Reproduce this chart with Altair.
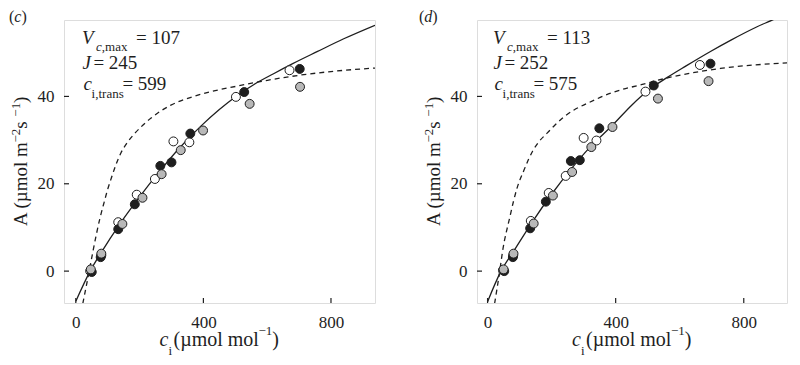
import altair as alt
import pandas as pd

# ---------------- data ----------------
# Panel (c)
c_open_ci = [45, 80, 133, 191, 248, 306, 356, 502, 670]
c_open_A = [0.0, 3.6, 11.2, 17.5, 21.1, 29.7, 29.5, 39.9, 46.0]
c_black_ci = [50, 78, 133, 185, 265, 300, 359, 528, 702]
c_black_A = [-0.2, 3.2, 9.6, 15.3, 24.1, 24.9, 31.5, 41.0, 46.3]
c_gray_ci = [47, 80, 146, 209, 269, 329, 399, 545, 703]
c_gray_A = [0.4, 4.0, 10.8, 16.8, 22.2, 27.7, 32.2, 38.3, 42.2]
c_solid_ci = [0, 45, 80, 140, 200, 260, 320, 392, 450, 502, 560, 620, 680, 758, 840, 938]
c_solid_A = [-6.9, 0.0, 4.3, 11.0, 17.0, 22.6, 27.8, 33.2, 37.0, 40.0, 42.8, 45.2, 47.5, 50.3, 53.2, 56.3]
c_dash_ci = [22, 42, 54, 76, 89, 99, 110, 125, 141, 160, 183, 210, 235, 265, 298, 361, 418, 502, 601, 706, 800, 938]
c_dash_A = [-7.4, 0.0, 4.6, 12.2, 15.8, 18.5, 21.0, 24.2, 27.0, 29.3, 31.4, 33.4, 35.0, 36.6, 38.0, 39.8, 41.0, 42.3, 43.7, 44.9, 45.7, 46.5]

# Panel (d)
d_open_ci = [48, 80, 135, 191, 244, 300, 340, 493, 663]
d_open_A = [0.2, 3.6, 11.5, 17.9, 21.8, 30.5, 29.9, 41.1, 47.2]
d_black_ci = [52, 79, 133, 182, 260, 288, 349, 519, 696]
d_black_A = [0.0, 3.2, 9.8, 15.9, 25.2, 25.4, 32.7, 42.5, 47.5]
d_gray_ci = [50, 81, 144, 204, 264, 324, 390, 532, 690]
d_gray_A = [0.4, 4.0, 10.9, 17.3, 22.7, 28.4, 33.0, 39.5, 43.5]
d_solid_ci = [0, 42, 80, 140, 200, 260, 320, 390, 450, 500, 560, 620, 696, 760, 840, 892, 935]
d_solid_A = [-7.0, 0.0, 4.4, 11.3, 17.6, 23.3, 28.4, 33.4, 38.0, 41.3, 44.3, 47.0, 50.3, 52.9, 55.9, 57.6, 59.1]
d_dash_ci = [22, 38, 47, 69, 81, 92, 113, 128, 141, 160, 186, 210, 238, 270, 311, 390, 480, 571, 727, 936]
d_dash_A = [-7.4, 0.0, 4.6, 12.2, 16.0, 19.0, 23.0, 25.6, 27.5, 29.6, 31.6, 33.4, 35.3, 36.9, 38.4, 40.9, 42.7, 44.4, 46.4, 47.7]

x_ticks = [0, 400, 800]
y_ticks = [0, 20, 40]

c_params = ["107", "245", "599"]
d_params = ["113", "252", "575"]

# ---------------- styling ----------------
SERIF = "Liberation Serif"
INK = "#1e1e1e"
GRAY = "#b8b8b8"
W_C, W_D, H = 311, 310, 283
ONE = alt.Data(values=[{}])


def txt(s, x, y, size, italic=False, angle=0):
    kw = dict(text=s, font=SERIF, fontSize=size, align="left",
              baseline="alphabetic", color=INK)
    if italic:
        kw["fontStyle"] = "italic"
    if angle:
        kw["angle"] = angle
    return alt.Chart(ONE).mark_text(**kw).encode(x=alt.value(x), y=alt.value(y))


def panel(letter, params, dx, lx, solid, dash, pts, xdom, width):
    xs = alt.Scale(domain=xdom, nice=False, zero=False)
    ys = alt.Scale(domain=[-7.3, 57.5], nice=False, zero=False)
    xax = alt.Axis(values=x_ticks, ticks=False, domain=False, grid=False,
                   labelFont=SERIF, labelFontSize=17, labelColor=INK,
                   labelPadding=11, labelFlush=False, title=None)
    yax = alt.Axis(values=y_ticks, ticks=False, domain=False, grid=False,
                   labelFont=SERIF, labelFontSize=17, labelColor=INK,
                   labelPadding=10, title=None)

    dash_df = pd.DataFrame({"ci": dash[0], "A": dash[1]})
    solid_df = pd.DataFrame({"ci": solid[0], "A": solid[1]})
    layers = [
        alt.Chart(dash_df).mark_line(color=INK, strokeWidth=1.3, strokeDash=[5, 4],
                                     interpolate="monotone", clip=True).encode(
            x=alt.X("ci:Q", scale=xs, axis=xax), y=alt.Y("A:Q", scale=ys, axis=yax)),
        alt.Chart(solid_df).mark_line(color=INK, strokeWidth=1.3,
                                      interpolate="monotone", clip=True).encode(
            x=alt.X("ci:Q", scale=xs), y=alt.Y("A:Q", scale=ys)),
        alt.Chart(pd.DataFrame({"v": y_ticks})).mark_rule(color=INK, strokeWidth=1.2).encode(
            y=alt.Y("v:Q", scale=ys), x=alt.value(0), x2=alt.value(5)),
        alt.Chart(pd.DataFrame({"v": x_ticks})).mark_rule(color=INK, strokeWidth=1.2).encode(
            x=alt.X("v:Q", scale=xs), y=alt.value(H), y2=alt.value(H - 5)),
    ]
    for (ci, A), fill in zip(pts, ["white", INK, GRAY]):
        df = pd.DataFrame({"ci": ci, "A": A})
        layers.append(alt.Chart(df).mark_point(shape="circle", filled=True, fill=fill,
                                               stroke=INK, strokeWidth=1, size=80,
                                               opacity=1).encode(
            x=alt.X("ci:Q", scale=xs), y=alt.Y("A:Q", scale=ys)))

    # parameter annotations
    layers += [
        txt("V", 18 + dx, 24.3, 19, italic=True),
        txt("c", 32 + dx, 31, 13, italic=True),
        txt(",max", 37.8 + dx, 31, 13),
        txt("= " + params[0], 72 + dx, 24.3, 19),
        txt("J", 18.4 + dx, 49.3, 19, italic=True),
        txt("= " + params[1], 29.4 + dx, 49.3, 19),
        txt("c", 19.4 + dx, 70, 19, italic=True),
        txt("i,trans", 27.6 + dx, 77.7, 13),
        txt("= " + params[2], 58.4 + dx, 70, 19),
    ]
    # panel letter
    lw = 7.1 if letter == "c" else 8.0
    layers += [
        txt("(", lx, 2, 16),
        txt(letter, lx + 5.3, 2, 16, italic=True),
        txt(")", lx + 5.3 + lw, 2, 16),
    ]
    # y axis title (rotated)
    yb, ys_ = -36.6, -43.6
    layers += [
        txt("A (\u00b5mol m", yb, 206, 19, angle=270),
        txt("\u22122", ys_, 122.6, 13, angle=270),
        txt(" s", yb, 108.8, 19, angle=270),
        txt("\u22121", ys_, 96.7, 13, angle=270),
        txt(")", yb, 82.9, 19, angle=270),
    ]
    # x axis title
    x0 = width / 2 - 60
    layers += [
        txt("c", x0, 326, 20, italic=True),
        txt("i", x0 + 8.9, 335, 13),
        txt("(\u00b5mol mol", x0 + 14.0, 326, 20),
        txt("\u22121", x0 + 99.0, 315, 13),
        txt(")", x0 + 112.8, 326, 20),
    ]
    return alt.layer(*layers).properties(width=width, height=H)


pc = panel("c", c_params, 0, -55,
           (c_solid_ci, c_solid_A), (c_dash_ci, c_dash_A),
           [(c_open_ci, c_open_A), (c_black_ci, c_black_A), (c_gray_ci, c_gray_A)],
           [-37, 938], W_C)
pd_ = panel("d", d_params, -2, -58,
            (d_solid_ci, d_solid_A), (d_dash_ci, d_dash_A),
            [(d_open_ci, d_open_A), (d_black_ci, d_black_A), (d_gray_ci, d_gray_A)],
            [-33, 935], W_D)

chart = alt.hconcat(pc, pd_, spacing=42).properties(
    padding={"left": 0, "top": 0, "right": 0, "bottom": 0}
).configure_view(stroke=INK, strokeWidth=1.5).configure(background="white")

chart.save("out.html", embed_options={"renderer": "svg", "actions": False})
